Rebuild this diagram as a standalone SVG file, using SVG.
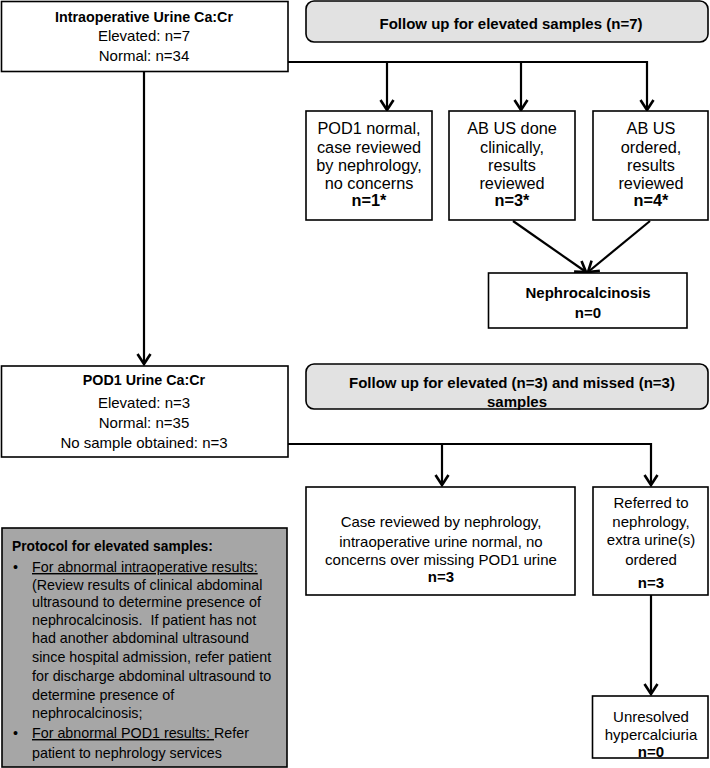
<svg xmlns="http://www.w3.org/2000/svg" width="710" height="768" viewBox="0 0 710 768">
<style>
text{font-family:"Liberation Sans",Arial,sans-serif;fill:#000}
.box{fill:#fff;stroke:#000;stroke-width:1.6}
.hdr{fill:#e2e2e2;stroke:#000;stroke-width:1.6}
.prot{fill:#a6a6a6;stroke:#000;stroke-width:1.6}
.c{text-anchor:middle}
.b{font-weight:bold}
.f15{font-size:15px}
.f16{font-size:16.3px}
.f14{font-size:14.3px}
.conn{fill:none;stroke:#000;stroke-width:2.2}
</style>
<defs>
<marker id="arr" markerUnits="userSpaceOnUse" viewBox="-12 -8 14 16" markerWidth="14" markerHeight="16" refX="0" refY="0" orient="auto">
<path d="M-10,-6.5 L0,0 L-10,6.5" fill="none" stroke="#000" stroke-width="2.6"/>
</marker>
</defs>

<g id="connectors">
<path class="conn" d="M288,62 H647 V110" marker-end="url(#arr)"/>
<path class="conn" d="M387,62 V110" marker-end="url(#arr)"/>
<path class="conn" d="M521,62 V110" marker-end="url(#arr)"/>
<path class="conn" d="M144,71 V364" marker-end="url(#arr)"/>
<path class="conn" d="M513,221 L586,272" marker-end="url(#arr)"/>
<path class="conn" d="M650,221 L588,272" marker-end="url(#arr)"/>
<path class="conn" d="M288,444 H651 V485" marker-end="url(#arr)"/>
<path class="conn" d="M442,444 V485" marker-end="url(#arr)"/>
<path class="conn" d="M651,595 V694" marker-end="url(#arr)"/>
</g>

<g id="intraop">
<rect class="box" x="1.5" y="1.5" width="286.5" height="70"/>
<text class="c b f14" x="144" y="22">Intraoperative Urine Ca:Cr</text>
<text class="c f15" x="144" y="41">Elevated: n=7</text>
<text class="c f15" x="144" y="61">Normal: n=34</text>
</g>

<g id="header1">
<rect class="hdr" x="306" y="1" width="402" height="41" rx="8"/>
<text class="c b f15" x="511" y="29">Follow up for elevated samples (n=7)</text>
</g>

<g id="boxA">
<rect class="box" x="306" y="111" width="126" height="109"/>
<text class="c f16" x="369" y="133.5">POD1 normal,</text>
<text class="c f16" x="369" y="152.5">case reviewed</text>
<text class="c f16" x="369" y="170.5">by nephrology,</text>
<text class="c f16" x="369" y="188.5">no concerns</text>
<text class="c b f16" x="369" y="206">n=1*</text>
</g>

<g id="boxB">
<rect class="box" x="449" y="111" width="126" height="109"/>
<text class="c f16" x="512" y="133.5">AB US done</text>
<text class="c f16" x="512" y="152.5">clinically,</text>
<text class="c f16" x="512" y="170.5">results</text>
<text class="c f16" x="512" y="188.5">reviewed</text>
<text class="c b f16" x="512" y="206">n=3*</text>
</g>

<g id="boxC">
<rect class="box" x="593" y="111" width="115" height="109"/>
<text class="c f16" x="651" y="133.5">AB US</text>
<text class="c f16" x="651" y="152.5">ordered,</text>
<text class="c f16" x="651" y="170.5">results</text>
<text class="c f16" x="651" y="188.5">reviewed</text>
<text class="c b f16" x="651" y="206">n=4*</text>
</g>

<g id="nephro">
<rect class="box" x="488.5" y="273" width="198.5" height="55"/>
<text class="c b f15" x="588" y="298">Nephrocalcinosis</text>
<text class="c b f15" x="588" y="318">n=0</text>
</g>

<g id="pod1">
<rect class="box" x="1.5" y="366" width="286.5" height="91"/>
<text class="c b f14" x="144" y="385">POD1 Urine Ca:Cr</text>
<text class="c f15" x="144" y="408">Elevated: n=3</text>
<text class="c f15" x="144" y="428">Normal: n=35</text>
<text class="c f15" x="144" y="448">No sample obtained: n=3</text>
</g>

<g id="header2">
<rect class="hdr" x="306" y="364" width="402" height="45" rx="8"/>
<text class="c b f15" x="512" y="388">Follow up for elevated (n=3) and missed (n=3)</text>
<text class="c b f15" x="517" y="407">samples</text>
</g>

<g id="boxD">
<rect class="box" x="306" y="487" width="269" height="108"/>
<text class="c f15" x="441" y="527">Case reviewed by nephrology,</text>
<text class="c f15" x="441" y="547">intraoperative urine normal, no</text>
<text class="c f15" x="441" y="565">concerns over missing POD1 urine</text>
<text class="c b f15" x="441" y="582">n=3</text>
</g>

<g id="boxE">
<rect class="box" x="593" y="487" width="115" height="108"/>
<text class="c f15" x="651" y="508">Referred to</text>
<text class="c f15" x="651" y="527">nephrology,</text>
<text class="c f15" x="651" y="545">extra urine(s)</text>
<text class="c f15" x="651" y="565">ordered</text>
<text class="c b f15" x="651" y="588">n=3</text>
</g>

<g id="unresolved">
<rect class="box" x="592.5" y="696" width="115.5" height="62"/>
<text class="c f15" x="651" y="722">Unresolved</text>
<text class="c f15" x="651" y="740">hypercalciuria</text>
<text class="c b f15" x="651" y="757">n=0</text>
</g>

<g id="protocol">
<rect class="prot" x="2" y="528" width="285" height="239"/>
<text class="b f14" x="12" y="551" style="font-size:13.8px">Protocol for elevated samples:</text>
<text class="f14" x="13" y="572">•</text>
<text class="f14" x="32" y="572"><tspan text-decoration="underline">For abnormal intraoperative results:</tspan></text>
<text class="f14" x="32" y="590">(Review results of clinical abdominal</text>
<text class="f14" x="32" y="607">ultrasound to determine presence of</text>
<text class="f14" x="32" y="625" xml:space="preserve">nephrocalcinosis.  If patient has not</text>
<text class="f14" x="32" y="643">had another abdominal ultrasound</text>
<text class="f14" x="32" y="662">since hospital admission, refer patient</text>
<text class="f14" x="32" y="681">for discharge abdominal ultrasound to</text>
<text class="f14" x="32" y="700">determine presence of</text>
<text class="f14" x="32" y="718">nephrocalcinosis;</text>
<text class="f14" x="13" y="738">•</text>
<text class="f14" x="32" y="738" xml:space="preserve"><tspan text-decoration="underline">For abnormal POD1 results: </tspan>Refer</text>
<text class="f14" x="32" y="758">patient to nephrology services</text>
</g>
</svg>
